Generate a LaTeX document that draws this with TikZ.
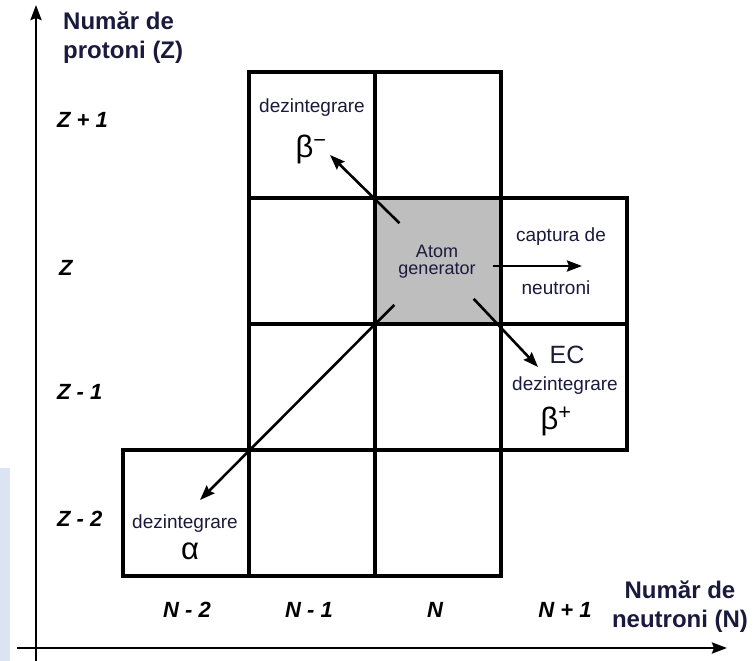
\documentclass[tikz,border=0pt]{standalone}
\usepackage{fontspec}
\setmainfont{Liberation Sans}
\usetikzlibrary{arrows.meta,positioning}
\definecolor{cText}{HTML}{1A1A3C}
\definecolor{cGen}{HTML}{BEBEBE}
\definecolor{cStrip}{HTML}{DCE4F4}
\tikzset{
  cell/.style={draw=black, line width=3.6pt, minimum size=126pt,
               inner sep=0pt, outer sep=0pt},
  gencell/.style={cell, fill=cGen},
  axis/.style={-{Stealth[length=15pt,width=11pt,inset=2pt]}, line width=2.8pt},
  decay/.style={-{Stealth[length=15pt,width=11pt,inset=2pt]}, line width=2.6pt},
  lbl/.style={text=cText, font=\fontsize{19}{21}\selectfont, inner sep=0pt},
  gen/.style={text=cText, font=\fontsize{18}{17}\selectfont, align=center, inner sep=0pt},
  sym/.style={font=\fontsize{31}{33}\selectfont, inner sep=0pt},
  tick/.style={font=\fontsize{22}{24}\selectfont\bfseries\itshape, inner sep=0pt},
  ttl/.style={text=cText, font=\fontsize{24}{29}\selectfont\bfseries, inner sep=0pt},
}

\begin{document}
\begin{tikzpicture}[x=1pt, y=-1pt]
  \useasboundingbox (0,0) rectangle (755,661);
  \fill[cStrip] (0,468) rectangle (10,661);

  % nuclide cells, one per (N,Z)
  \foreach \nm/\cx/\cy in {zpa-nma/312/135, zpa-n/438/135,
                          z-nma/312/261, z-npa/564/261,
                          zma-nma/312/387, zma-n/438/387, zma-npa/564/387,
                          zmb-nmb/186/513, zmb-nma/312/513, zmb-n/438/513}
    \node[cell] (\nm) at (\cx,\cy) {};
  \node[gencell] (gen) at (438,261) {};
  \node[gen] (genlbl) at (437,262) {Atom\\generator};

  % axes
  \coordinate (zbot) at (36,661);
  \coordinate (ztop) at (36,5);
  \coordinate (nleft) at (17,648);
  \coordinate (nright) at (727,648);
  \draw[axis] (zbot) -- (ztop);
  \draw[axis] (nleft) -- (nright);
  \node[ttl, anchor=north west, align=left] (zttl) at (63,12) {Număr de\\protoni (Z)};
  \node[ttl, anchor=north, align=center] (nttl) at (680,581) {Număr de\\neutroni (N)};

  \node[tick, anchor=west] (zpa) at (57,120) {Z + 1};
  \node[tick, anchor=west] (z) at (59,268) {Z};
  \node[tick, anchor=west] (zma) at (57,392) {Z - 1};
  \node[tick, anchor=west] (zmb) at (57,519) {Z - 2};
  \node[tick] (nmb) at (187,610) {N - 2};
  \node[tick] (nma) at (309,610) {N - 1};
  \node[tick] (n) at (435,610) {N};
  \node[tick] (npa) at (565,610) {N + 1};

  % decay labels
  \node[lbl] (bmtxt) at (312,108) {dezintegrare};
  \node[sym] (bm) at (311,149) {β\textsuperscript{−}};
  \node[lbl] (nctxt) at (561,237) {captura de};
  \node[lbl] (nctxtb) at (556,288) {neutroni};
  \node[lbl, font=\fontsize{25}{27}\selectfont] (ec) at (567,355) {EC};
  \node[lbl] (bptxt) at (565,386) {dezintegrare};
  \node[sym] (bp) at (556,421) {β\textsuperscript{+}};
  \node[lbl] (atxt) at (185,524) {dezintegrare};
  \node[sym] (al) at (190,551) {α};

  % decay arrows out of the parent atom
  \coordinate (bm-tip) at (330,155);
  \coordinate (nc-tip) at (582,266);
  \coordinate (ec-tip) at (538,367);
  \coordinate (al-tip) at (200,500);
  \draw[decay, shorten <=54pt] (gen.center) -- (bm-tip);
  \draw[decay] (gen.center) ++(55,5) -- (nc-tip);
  \draw[decay, shorten <=52pt] (gen.center) -- (ec-tip);
  \draw[decay, shorten <=62pt] (gen.center) -- (al-tip);
\end{tikzpicture}
\end{document}
